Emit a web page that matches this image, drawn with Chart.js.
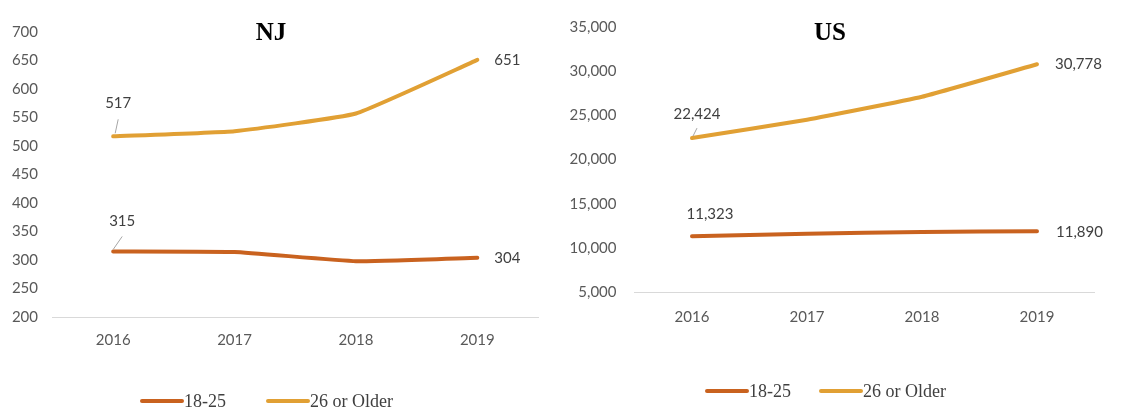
<!DOCTYPE html>
<html>
<head>
<meta charset="utf-8">
<title>NJ / US</title>
<script src="https://cdn.jsdelivr.net/npm/chart.js@4.4.1/dist/chart.umd.min.js"></script>
<style>
    body { margin: 0; background: #fff; }
    .panel { position: absolute; top: 0; }
</style>
</head>
<body>
<div class="panel" style="left:0"><canvas id="nj" width="560" height="410"></canvas></div>
<div class="panel" style="left:560px"><canvas id="us" width="564" height="410"></canvas></div>
<script>
const years = ['2016', '2017', '2018', '2019'];
const seriesNames = ['18-25', '26 or Older'];

const njYoung = [315, 314, 298, 304];
const njOlder = [517, 526, 557, 651];
const usYoung = [11323, 11600, 11800, 11890];
const usOlder = [22424, 24500, 27100, 30778];

// y axis ranges: [min, max, step]
const njRange = [200, 700, 50];
const usRange = [5000, 35000, 5000];

const YOUNG_COLOR = '#C9621F';
const OLDER_COLOR = '#E1A034';
const TICK_FONT = { family: 'Lato', size: 15 };

// bold serif heading sitting over the top of the plot
const panelTitle = {
    id: 'panelTitle',
    afterDraw(chart, args, opts) {
        let ctx = chart.ctx;
        ctx.save();
        ctx.font = 'bold 25px "Liberation Serif"';
        ctx.fillStyle = '#000';
        ctx.textAlign = 'center';
        ctx.textBaseline = 'middle';
        ctx.fillText(opts.text, opts.x, opts.y);
        ctx.restore();
    }
};

// value labels on the first and last points
const endLabels = {
    id: 'endLabels',
    afterDatasetsDraw(chart, args, opts) {
        let ctx = chart.ctx;
        ctx.save();
        ctx.font = '15px Lato';
        ctx.fillStyle = '#404040';
        ctx.textBaseline = 'middle';
        opts.items.forEach(item => {
            let pt = chart.getDatasetMeta(item.ds).data[item.idx];
            let value = chart.data.datasets[item.ds].data[item.idx];
            if (item.leader) {
                ctx.strokeStyle = '#a6a6a6';
                ctx.lineWidth = 1;
                ctx.beginPath();
                ctx.moveTo(pt.x + item.leader[0], pt.y + item.leader[1]);
                ctx.lineTo(pt.x + item.leader[2], pt.y + item.leader[3]);
                ctx.stroke();
            }
            ctx.textAlign = item.align;
            ctx.fillText(value.toLocaleString('en-US'), pt.x + item.dx, pt.y + item.dy);
        });
        ctx.restore();
    }
};

// legend: short thick line followed by the series name
const lineLegend = {
    id: 'lineLegend',
    afterDraw(chart, args, opts) {
        let ctx = chart.ctx;
        ctx.save();
        ctx.font = '18px "Liberation Serif"';
        ctx.textBaseline = 'middle';
        ctx.textAlign = 'left';
        let x = opts.x;
        chart.data.datasets.forEach(ds => {
            ctx.strokeStyle = ds.borderColor;
            ctx.lineWidth = 4;
            ctx.lineCap = 'round';
            ctx.beginPath();
            ctx.moveTo(x, opts.y);
            ctx.lineTo(x + 40, opts.y);
            ctx.stroke();
            ctx.fillStyle = '#404040';
            ctx.fillText(ds.label, x + 42, opts.y + 1);
            x += 42 + ctx.measureText(ds.label).width + opts.gap;
        });
        ctx.restore();
    }
};

function makeChart(id, young, older, range, cfg) {
    return new Chart(document.getElementById(id), {
        type: 'line',
        data: {
            labels: years,
            datasets: [{
                label: seriesNames[0],
                data: young,
                borderColor: YOUNG_COLOR,
                backgroundColor: YOUNG_COLOR,
                borderWidth: 4,
                tension: 0.12,
                pointRadius: 0,
                borderCapStyle: 'round'
            }, {
                label: seriesNames[1],
                data: older,
                borderColor: OLDER_COLOR,
                backgroundColor: OLDER_COLOR,
                borderWidth: 4,
                tension: 0.12,
                pointRadius: 0,
                borderCapStyle: 'round'
            }]
        },
        options: {
            responsive: false,
            animation: false,
            layout: { padding: cfg.padding },
            plugins: {
                legend: { display: false },
                tooltip: { enabled: false },
                panelTitle: cfg.title,
                endLabels: { items: cfg.labels },
                lineLegend: cfg.legend
            },
            scales: {
                x: {
                    offset: true,
                    grid: { display: false, drawTicks: false },
                    border: { display: true, color: '#d9d9d9', width: 1 },
                    ticks: { font: TICK_FONT, color: '#595959', padding: cfg.xPad },
                    afterFit: scale => { scale.height = 40; }
                },
                y: {
                    min: range[0],
                    max: range[1],
                    grid: { display: false, drawTicks: false },
                    border: { display: false },
                    ticks: {
                        stepSize: range[2],
                        font: TICK_FONT,
                        color: '#595959',
                        padding: cfg.yPad,
                        callback: v => v.toLocaleString('en-US')
                    },
                    afterFit: scale => { scale.width = cfg.axisWidth; }
                }
            }
        },
        plugins: [panelTitle, endLabels, lineLegend]
    });
}

makeChart('nj', njYoung, njOlder, njRange, {
    padding: { top: 32, left: 0, right: 22, bottom: 53 },
    axisWidth: 52.5,
    xPad: 14,
    yPad: 14.5,
    title: { text: 'NJ', x: 271, y: 34 },
    legend: { x: 142, y: 401, gap: 42 },
    labels: [
        { ds: 1, idx: 0, dx: 5, dy: -33, align: 'center', leader: [2, -3, 5, -17] },
        { ds: 0, idx: 0, dx: 9, dy: -30, align: 'center', leader: [0, -2, 9, -15] },
        { ds: 1, idx: 3, dx: 17, dy: 0, align: 'left' },
        { ds: 0, idx: 3, dx: 17, dy: 0, align: 'left' }
    ]
});

makeChart('us', usYoung, usOlder, usRange, {
    padding: { top: 18, left: 0, right: 29.5, bottom: 78 },
    axisWidth: 74.5,
    xPad: 16,
    yPad: 18,
    title: { text: 'US', x: 270, y: 34 },
    legend: { x: 147, y: 391, gap: 30 },
    labels: [
        { ds: 1, idx: 0, dx: 5, dy: -24, align: 'center', leader: [1, -2, 5, -10] },
        { ds: 0, idx: 0, dx: 18, dy: -22, align: 'center' },
        { ds: 1, idx: 3, dx: 18, dy: 0, align: 'left' },
        { ds: 0, idx: 3, dx: 19, dy: 1, align: 'left' }
    ]
});
</script>
</body>
</html>
